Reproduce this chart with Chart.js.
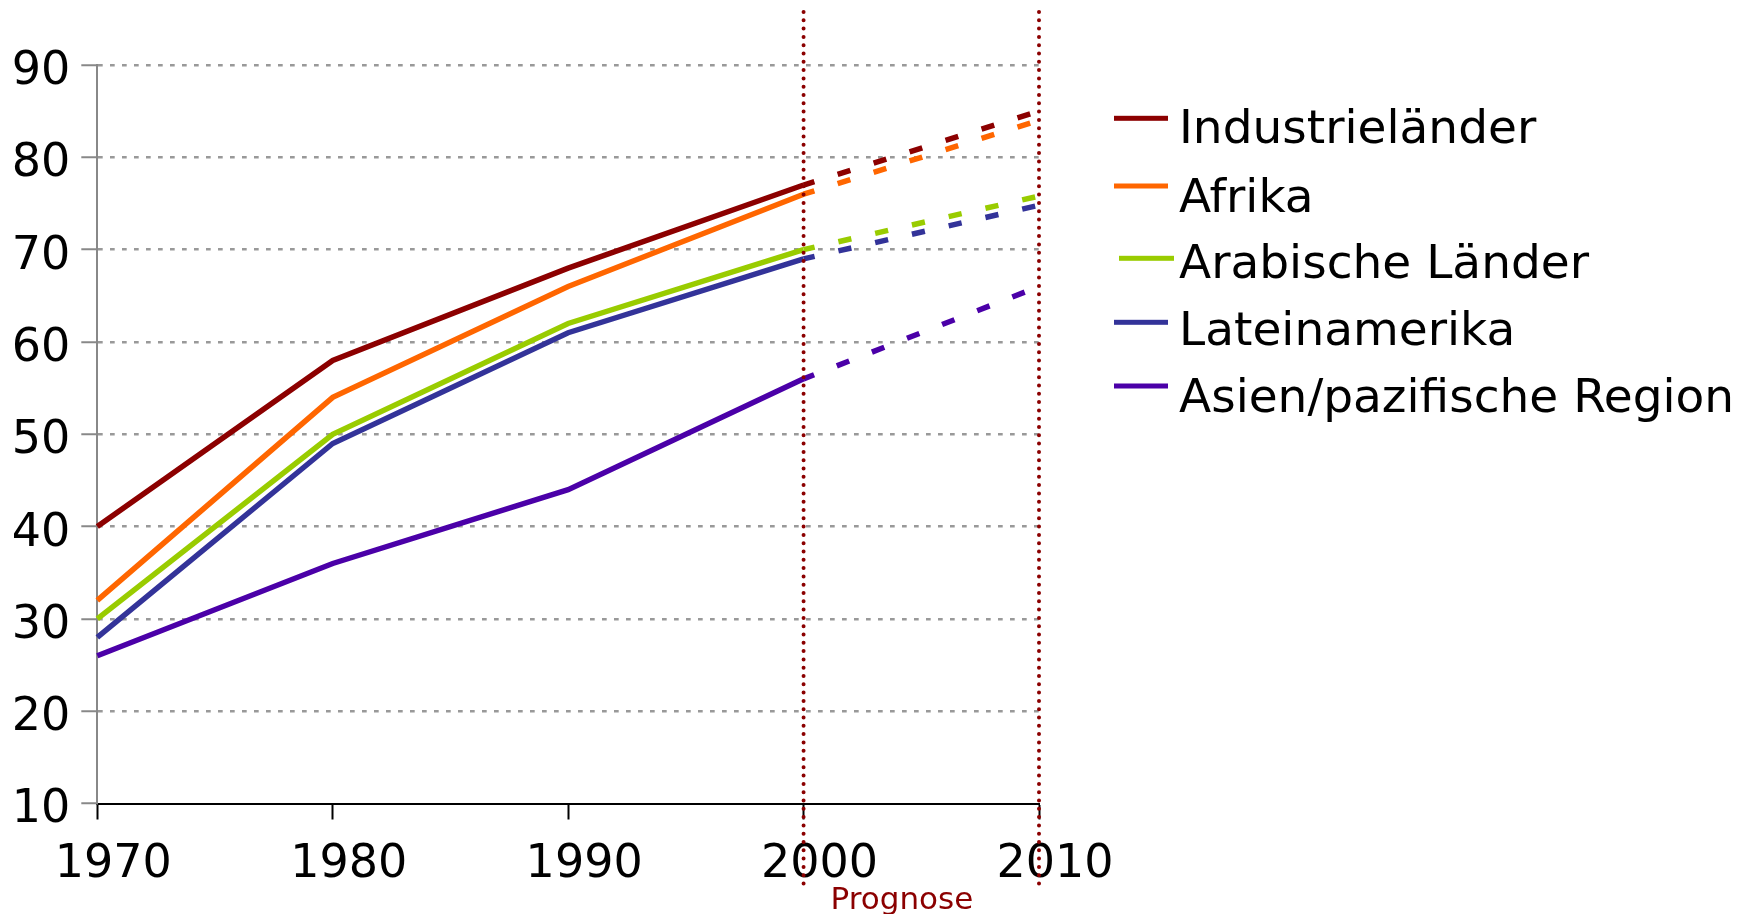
<!DOCTYPE html>
<html>
<head>
<meta charset="utf-8">
<script src="https://cdn.jsdelivr.net/npm/chart.js@4.4.1/dist/chart.umd.min.js"></script>
<style>
  html, body { margin: 0; padding: 0; background: #ffffff; }
  #wrap { width: 1761px; height: 914px; position: relative; }
</style>
</head>
<body>
<div id="wrap"><canvas id="c" width="1761" height="914"></canvas></div>
<script>
// ---- data ----
const years = ['1970', '1980', '1990', '2000', '2010'];
const yTickValues = [10, 20, 30, 40, 50, 60, 70, 80, 90];
const seriesNames = ['Industrieländer', 'Afrika', 'Arabische Länder', 'Lateinamerika', 'Asien/pazifische Region'];
const industrielaender = [40, 58, 68, 77, 85];
const afrika = [32, 54, 66, 76, 84];
const arabischeLaender = [30, 50, 62, 70, 75.8];
const lateinamerika = [28, 49, 61, 69, 74.8];
const asienPazifik = [26, 36, 44, 56, 66];
const forecastFrom = '2000';
const forecastTo = '2010';
const forecastText = 'Prognose';

// ---- styles ----
const FONT = '"DejaVu Sans", Verdana, sans-serif';
const seriesColors = ['#8c0000', '#ff6600', '#99cc00', '#333399', '#4b00a8'];
const seriesValues = [industrielaender, afrika, arabischeLaender, lateinamerika, asienPazifik];
const forecastIndex = years.indexOf(forecastFrom);

const datasets = seriesNames.map((name, i) => ({
  label: name,
  data: seriesValues[i],
  borderColor: seriesColors[i],
  backgroundColor: seriesColors[i],
  borderWidth: 5.5,
  pointRadius: 0,
  pointHoverRadius: 0,
  tension: 0,
  fill: false,
  borderCapStyle: 'butt',
  borderJoinStyle: 'miter',
  segment: {
    borderDash: ctx => ctx.p0DataIndex >= forecastIndex ? [13.3, 24.4] : undefined,
    borderDashOffset: ctx => ctx.p0DataIndex >= forecastIndex ? 2 : undefined
  }
}));

// legend layout (pixels)
const legendLayout = {
  swatchX: [1114, 1114, 1119, 1114, 1114],
  swatchW: [54, 54, 55, 54, 54],
  swatchY: [118.3, 186, 258.3, 322.3, 386],
  textX: 1179,
  baseline: [143.3, 211.7, 278.3, 345, 411.7]
};

const overlayPlugin = {
  id: 'overlay',
  afterDatasetsDraw(chart) {
    const { ctx } = chart;
    const xs = chart.scales.x;
    ctx.save();
    ctx.strokeStyle = '#8b0000';
    ctx.lineWidth = 4;
    ctx.lineCap = 'round';
    ctx.setLineDash([0, 8.3]);
    [forecastFrom, forecastTo].forEach(v => {
      const px = xs.getPixelForValue(years.indexOf(v));
      ctx.beginPath();
      ctx.moveTo(px, 12);
      ctx.lineTo(px, 889);
      ctx.stroke();
    });
    ctx.restore();
  },
  afterDraw(chart) {
    const { ctx } = chart;
    const xs = chart.scales.x;
    ctx.save();
    // Prognose
    ctx.fillStyle = '#8b0000';
    ctx.font = '31px ' + FONT;
    ctx.textAlign = 'left';
    ctx.textBaseline = 'alphabetic';
    const px = xs.getPixelForValue(years.indexOf(forecastFrom));
    ctx.fillText(forecastText, px + 27, 909);
    // Legend
    ctx.font = '47px ' + FONT;
    chart.data.datasets.forEach((ds, i) => {
      ctx.fillStyle = ds.borderColor;
      ctx.fillRect(legendLayout.swatchX[i], legendLayout.swatchY[i] - 2.5, legendLayout.swatchW[i], 5);
      ctx.fillStyle = '#000000';
      ctx.fillText(ds.label, legendLayout.textX, legendLayout.baseline[i]);
    });
    ctx.restore();
  }
};

new Chart(document.getElementById('c'), {
  type: 'line',
  data: { labels: years, datasets },
  options: {
    responsive: false,
    devicePixelRatio: 1,
    animation: false,
    events: [],
    layout: { padding: { top: 65, right: 722, bottom: 0, left: 0 } },
    plugins: {
      legend: { display: false },
      tooltip: { enabled: false },
      title: { display: false }
    },
    scales: {
      x: {
        type: 'category',
        offset: false,
        grid: {
          drawOnChartArea: false,
          drawTicks: true,
          tickLength: 16,
          tickWidth: 2,
          tickColor: '#000000',
          color: '#000000'
        },
        border: { display: true, color: '#000000', width: 2 },
        ticks: {
          font: { family: FONT, size: 46 },
          color: '#000000',
          padding: 18,
          labelOffset: 16,
          maxRotation: 0,
          minRotation: 0,
          autoSkip: false
        },
        afterFit(scale) { scale.height = 110.5; }
      },
      y: {
        type: 'linear',
        min: 10,
        max: 90,
        afterBuildTicks(scale) { scale.ticks = yTickValues.map(v => ({ value: v })); },
        grid: {
          color: ctx => (ctx.tick && ctx.tick.value === 10) ? 'rgba(0,0,0,0)' : '#999999',
          lineWidth: 2.5,
          drawTicks: true,
          tickLength: 16,
          tickWidth: 2,
          tickColor: '#888888',
          tickBorderDash: []
        },
        border: { display: true, color: '#888888', width: 2, dash: [4.7, 7.3] },
        ticks: {
          font: { family: FONT, size: 46 },
          color: '#000000',
          padding: 11,
          labelOffset: 7
        },
        afterFit(scale) { scale.width = 97.3; }
      }
    }
  },
  plugins: [overlayPlugin]
});
</script>
</body>
</html>
